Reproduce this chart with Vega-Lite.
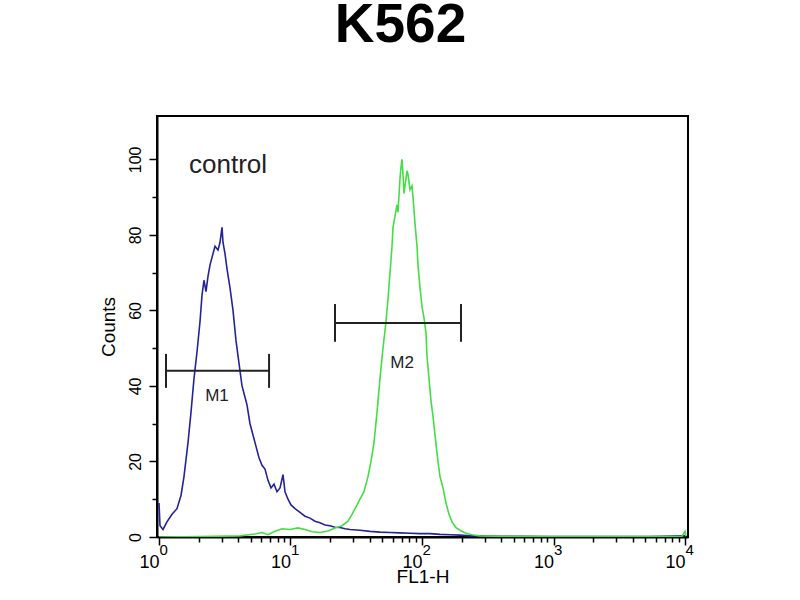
{
  "$schema": "https://vega.github.io/schema/vega-lite/v6.json",
  "autosize": {"type": "none"},
  "padding": {"left": 157, "top": 116, "right": 112, "bottom": 63},
  "width": 531,
  "height": 421,
  "background": "white",
  "title": {
    "text": "K562",
    "fontSize": 55,
    "fontWeight": "bold",
    "font": "Liberation Sans",
    "color": "black",
    "anchor": "middle",
    "offset": 62,
    "dx": -22
  },
  "resolve": {"axis": {"x": "independent"}},
  "config": {
    "font": "Liberation Sans",
    "view": {"stroke": "black", "strokeWidth": 2},
    "axis": {
      "domainColor": "black",
      "domainWidth": 2,
      "tickColor": "black",
      "tickWidth": 1.5,
      "labelColor": "black",
      "titleColor": "black",
      "grid": false,
      "titleFontWeight": "normal"
    }
  },
  "datasets": {
    "hist": [
      {"series": "control", "fl": 1.000, "count": 9},
      {"series": "control", "fl": 1.018, "count": 3},
      {"series": "control", "fl": 1.073, "count": 2},
      {"series": "control", "fl": 1.150, "count": 4},
      {"series": "control", "fl": 1.256, "count": 6},
      {"series": "control", "fl": 1.370, "count": 7.5},
      {"series": "control", "fl": 1.470, "count": 11},
      {"series": "control", "fl": 1.549, "count": 16},
      {"series": "control", "fl": 1.662, "count": 25},
      {"series": "control", "fl": 1.751, "count": 33},
      {"series": "control", "fl": 1.846, "count": 42},
      {"series": "control", "fl": 1.945, "count": 49},
      {"series": "control", "fl": 2.050, "count": 57},
      {"series": "control", "fl": 2.123, "count": 64},
      {"series": "control", "fl": 2.198, "count": 68},
      {"series": "control", "fl": 2.277, "count": 65},
      {"series": "control", "fl": 2.358, "count": 69},
      {"series": "control", "fl": 2.442, "count": 72},
      {"series": "control", "fl": 2.574, "count": 75},
      {"series": "control", "fl": 2.666, "count": 77},
      {"series": "control", "fl": 2.810, "count": 76},
      {"series": "control", "fl": 2.910, "count": 78},
      {"series": "control", "fl": 3.014, "count": 82},
      {"series": "control", "fl": 3.067, "count": 78},
      {"series": "control", "fl": 3.177, "count": 75},
      {"series": "control", "fl": 3.290, "count": 71},
      {"series": "control", "fl": 3.467, "count": 66},
      {"series": "control", "fl": 3.654, "count": 60},
      {"series": "control", "fl": 3.851, "count": 52},
      {"series": "control", "fl": 4.059, "count": 46},
      {"series": "control", "fl": 4.278, "count": 40},
      {"series": "control", "fl": 4.508, "count": 37},
      {"series": "control", "fl": 4.669, "count": 35},
      {"series": "control", "fl": 4.920, "count": 30},
      {"series": "control", "fl": 5.186, "count": 27},
      {"series": "control", "fl": 5.465, "count": 24},
      {"series": "control", "fl": 5.761, "count": 21},
      {"series": "control", "fl": 6.071, "count": 19},
      {"series": "control", "fl": 6.398, "count": 18},
      {"series": "control", "fl": 6.744, "count": 15},
      {"series": "control", "fl": 7.107, "count": 13},
      {"series": "control", "fl": 7.490, "count": 14},
      {"series": "control", "fl": 7.894, "count": 12},
      {"series": "control", "fl": 8.322, "count": 13},
      {"series": "control", "fl": 8.770, "count": 16.5},
      {"series": "control", "fl": 9.083, "count": 12},
      {"series": "control", "fl": 9.572, "count": 10},
      {"series": "control", "fl": 10.09, "count": 8.5},
      {"series": "control", "fl": 10.82, "count": 7.5},
      {"series": "control", "fl": 11.81, "count": 6.5},
      {"series": "control", "fl": 12.89, "count": 5.5},
      {"series": "control", "fl": 14.07, "count": 5},
      {"series": "control", "fl": 15.36, "count": 4.2},
      {"series": "control", "fl": 16.76, "count": 3.8},
      {"series": "control", "fl": 18.30, "count": 3.2},
      {"series": "control", "fl": 19.97, "count": 3},
      {"series": "control", "fl": 21.80, "count": 2.6},
      {"series": "control", "fl": 23.79, "count": 2.5},
      {"series": "control", "fl": 25.97, "count": 2.2},
      {"series": "control", "fl": 28.35, "count": 2},
      {"series": "control", "fl": 33.77, "count": 1.8},
      {"series": "control", "fl": 40.23, "count": 1.5},
      {"series": "control", "fl": 47.93, "count": 1.3},
      {"series": "control", "fl": 57.11, "count": 1.2},
      {"series": "control", "fl": 68.04, "count": 1.1},
      {"series": "control", "fl": 81.06, "count": 1.0},
      {"series": "control", "fl": 96.56, "count": 0.9},
      {"series": "control", "fl": 115.0, "count": 0.9},
      {"series": "control", "fl": 137.1, "count": 0.7},
      {"series": "control", "fl": 163.3, "count": 0.6},
      {"series": "control", "fl": 194.5, "count": 0.5},
      {"series": "control", "fl": 231.7, "count": 0.3},
      {"series": "control", "fl": 276.1, "count": 0.3},
      {"series": "control", "fl": 391.9, "count": 0.2},
      {"series": "control", "fl": 556.3, "count": 0.2},
      {"series": "control", "fl": 940.6, "count": 0.1},
      {"series": "control", "fl": 2258, "count": 0.1},
      {"series": "control", "fl": 5417, "count": 0.1},
      {"series": "control", "fl": 10000, "count": 0.3},
      {"series": "sample", "fl": 1.000, "count": 0},
      {"series": "sample", "fl": 2.050, "count": 0.1},
      {"series": "sample", "fl": 4.130, "count": 0.3},
      {"series": "sample", "fl": 5.370, "count": 0.8},
      {"series": "sample", "fl": 6.071, "count": 1.2},
      {"series": "sample", "fl": 6.744, "count": 0.6},
      {"series": "sample", "fl": 7.623, "count": 1.5},
      {"series": "sample", "fl": 8.618, "count": 2.2},
      {"series": "sample", "fl": 9.913, "count": 2.0},
      {"series": "sample", "fl": 11.40, "count": 2.4},
      {"series": "sample", "fl": 12.89, "count": 2.0},
      {"series": "sample", "fl": 14.57, "count": 1.4},
      {"series": "sample", "fl": 16.76, "count": 1.2},
      {"series": "sample", "fl": 19.28, "count": 1.6},
      {"series": "sample", "fl": 21.80, "count": 2.4},
      {"series": "sample", "fl": 24.64, "count": 3.0},
      {"series": "sample", "fl": 27.37, "count": 4.2},
      {"series": "sample", "fl": 29.36, "count": 6},
      {"series": "sample", "fl": 31.48, "count": 8},
      {"series": "sample", "fl": 33.77, "count": 10},
      {"series": "sample", "fl": 36.22, "count": 12},
      {"series": "sample", "fl": 38.85, "count": 16},
      {"series": "sample", "fl": 40.95, "count": 20},
      {"series": "sample", "fl": 43.15, "count": 25},
      {"series": "sample", "fl": 45.48, "count": 33},
      {"series": "sample", "fl": 47.93, "count": 42},
      {"series": "sample", "fl": 50.51, "count": 50},
      {"series": "sample", "fl": 53.23, "count": 57},
      {"series": "sample", "fl": 55.13, "count": 63},
      {"series": "sample", "fl": 57.11, "count": 70},
      {"series": "sample", "fl": 59.15, "count": 77},
      {"series": "sample", "fl": 60.19, "count": 82},
      {"series": "sample", "fl": 62.33, "count": 85},
      {"series": "sample", "fl": 64.55, "count": 88},
      {"series": "sample", "fl": 65.69, "count": 86},
      {"series": "sample", "fl": 68.04, "count": 95},
      {"series": "sample", "fl": 69.24, "count": 98},
      {"series": "sample", "fl": 70.46, "count": 100},
      {"series": "sample", "fl": 71.71, "count": 96},
      {"series": "sample", "fl": 72.97, "count": 91},
      {"series": "sample", "fl": 74.26, "count": 93},
      {"series": "sample", "fl": 76.90, "count": 97},
      {"series": "sample", "fl": 78.26, "count": 96},
      {"series": "sample", "fl": 81.06, "count": 92},
      {"series": "sample", "fl": 83.95, "count": 93},
      {"series": "sample", "fl": 85.43, "count": 90},
      {"series": "sample", "fl": 88.48, "count": 83},
      {"series": "sample", "fl": 91.63, "count": 77},
      {"series": "sample", "fl": 93.25, "count": 72},
      {"series": "sample", "fl": 96.56, "count": 66},
      {"series": "sample", "fl": 100.0, "count": 61},
      {"series": "sample", "fl": 103.6, "count": 58},
      {"series": "sample", "fl": 107.3, "count": 54},
      {"series": "sample", "fl": 109.1, "count": 48},
      {"series": "sample", "fl": 113.0, "count": 42},
      {"series": "sample", "fl": 117.1, "count": 36},
      {"series": "sample", "fl": 121.2, "count": 32},
      {"series": "sample", "fl": 125.6, "count": 27},
      {"series": "sample", "fl": 132.3, "count": 20},
      {"series": "sample", "fl": 137.1, "count": 16},
      {"series": "sample", "fl": 144.4, "count": 13},
      {"series": "sample", "fl": 152.2, "count": 9},
      {"series": "sample", "fl": 160.5, "count": 6},
      {"series": "sample", "fl": 169.1, "count": 4},
      {"series": "sample", "fl": 181.4, "count": 2.5},
      {"series": "sample", "fl": 194.5, "count": 1.8},
      {"series": "sample", "fl": 216.1, "count": 1.0},
      {"series": "sample", "fl": 240.0, "count": 0.6},
      {"series": "sample", "fl": 276.1, "count": 0.3},
      {"series": "sample", "fl": 391.9, "count": 0.2},
      {"series": "sample", "fl": 789.5, "count": 0.1},
      {"series": "sample", "fl": 2258, "count": 0.1},
      {"series": "sample", "fl": 6455, "count": 0.1},
      {"series": "sample", "fl": 9489, "count": 0.2},
      {"series": "sample", "fl": 10000, "count": 1.5},
      {"series": "sample", "fl": 10180, "count": 0.2}
    ],
    "markers": [
      {"label": "M1", "lo": 1.13, "hi": 6.87, "level": 44, "capLo": 39.5, "capHi": 48.5, "labelX": 2.76, "labelY": 37.4},
      {"label": "M2", "lo": 21.8, "hi": 198, "level": 56.7, "capLo": 51.7, "capHi": 61.7, "labelX": 70.5, "labelY": 46}
    ],
    "notes": [
      {"text": "control", "x": 3.35, "y": 98.5}
    ]
  },
  "layer": [
    {
      "data": {"name": "hist"},
      "mark": {"type": "line", "strokeWidth": 1.6, "clip": true, "interpolate": "linear"},
      "encoding": {
        "x": {
          "field": "fl",
          "type": "quantitative",
          "scale": {"type": "log", "domain": [0.9656, 10539], "nice": false},
          "axis": {
            "orient": "bottom",
            "title": "FL1-H",
            "titleFontSize": 19,
            "titlePadding": -4,
            "values": [1, 2, 3, 4, 5, 6, 7, 8, 9, 10, 20, 30, 40, 50, 60, 70, 80, 90, 100, 200, 300, 400, 500, 600, 700, 800, 900, 1000, 2000, 3000, 4000, 5000, 6000, 7000, 8000, 9000, 10000],
            "labelExpr": "indexof([1,10,100,1000,10000], datum.value) >= 0 ? '10' : ''",
            "labelFontSize": 18,
            "labelAlign": "right",
            "labelOverlap": false,
            "labelFlush": false,
            "labelBound": false,
            "labelPadding": 8,
            "labelDx": 3,
            "tickSize": {"condition": {"test": "indexof([1,10,100,1000,10000], datum.value) >= 0", "value": 8}, "value": 5}
          }
        },
        "y": {
          "field": "count",
          "type": "quantitative",
          "scale": {"domain": [0, 111.5], "nice": false, "zero": true},
          "axis": {
            "title": "Counts",
            "titleFontSize": 19,
            "titlePadding": 9,
            "values": [0, 5, 10, 15, 20, 25, 30, 35, 40, 45, 50, 55, 60, 65, 70, 75, 80, 85, 90, 95, 100, 105],
            "labelExpr": "datum.value % 20 == 0 ? datum.label : ''",
            "labelFontSize": 16,
            "labelAngle": 270,
            "labelAlign": "center",
            "labelBaseline": "bottom",
            "labelOverlap": false,
            "labelFlush": false,
            "labelPadding": 6,
            "tickSize": {"condition": {"test": "datum.value % 20 == 0", "value": 8}, "value": 5}
          }
        },
        "color": {
          "field": "series",
          "type": "nominal",
          "scale": {"domain": ["control", "sample"], "range": ["#23239a", "#44de44"]},
          "legend": null
        }
      }
    },
    {
      "data": {"name": "markers"},
      "mark": {"type": "rule", "color": "#222222", "strokeWidth": 2},
      "encoding": {
        "x": {"field": "lo", "type": "quantitative", "axis": null},
        "x2": {"field": "hi"},
        "y": {"field": "level", "type": "quantitative"}
      }
    },
    {
      "data": {"name": "markers"},
      "mark": {"type": "rule", "color": "#222222", "strokeWidth": 2},
      "encoding": {
        "x": {"field": "lo", "type": "quantitative", "axis": null},
        "y": {"field": "capLo", "type": "quantitative"},
        "y2": {"field": "capHi"}
      }
    },
    {
      "data": {"name": "markers"},
      "mark": {"type": "rule", "color": "#222222", "strokeWidth": 2},
      "encoding": {
        "x": {"field": "hi", "type": "quantitative", "axis": null},
        "y": {"field": "capLo", "type": "quantitative"},
        "y2": {"field": "capHi"}
      }
    },
    {
      "data": {"name": "markers"},
      "mark": {"type": "text", "fontSize": 17, "color": "#222222", "align": "center", "baseline": "middle"},
      "encoding": {
        "x": {"field": "labelX", "type": "quantitative", "axis": null},
        "y": {"field": "labelY", "type": "quantitative"},
        "text": {"field": "label"}
      }
    },
    {
      "data": {"name": "notes"},
      "mark": {"type": "text", "fontSize": 26, "color": "#222222", "align": "center", "baseline": "middle"},
      "encoding": {
        "x": {
          "field": "x",
          "type": "quantitative",
          "axis": {
            "orient": "bottom",
            "title": null,
            "domain": false,
            "ticks": false,
            "values": [1, 10, 100, 1000, 10000],
            "labelExpr": "datum.value == 1 ? '0' : datum.value == 10 ? '1' : datum.value == 100 ? '2' : datum.value == 1000 ? '3' : '4'",
            "labelFontSize": 15,
            "labelAlign": "left",
            "labelBaseline": "top",
            "labelOverlap": false,
            "labelFlush": false,
            "labelBound": false,
            "labelPadding": 5,
            "labelDx": 5
          }
        },
        "y": {"field": "y", "type": "quantitative"},
        "text": {"field": "text"}
      }
    }
  ]
}
